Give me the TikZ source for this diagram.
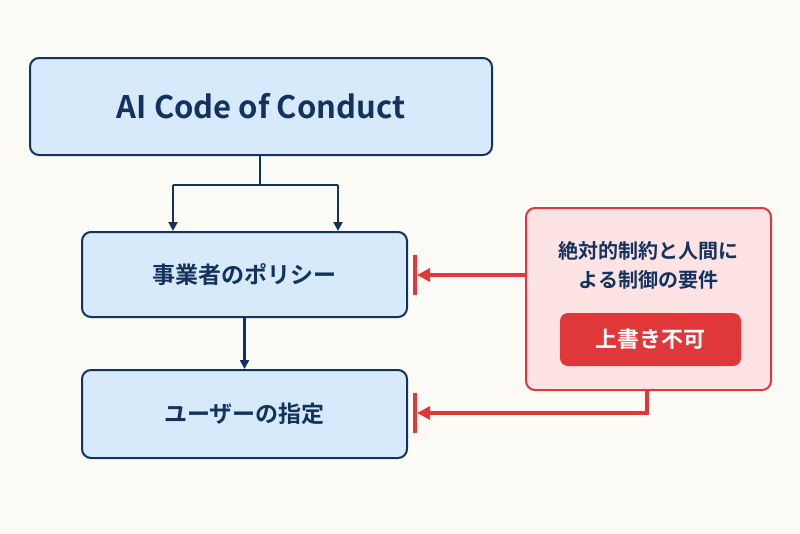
\documentclass[tikz,border=0pt]{standalone}
\usepackage{fontspec}
\setmainfont{Noto Sans CJK JP}[BoldFont={* Bold}]
\usetikzlibrary{arrows.meta}
\definecolor{bg}{HTML}{FDFBF6}
\definecolor{navy}{HTML}{13325E}
\definecolor{lblue}{HTML}{D6EAFB}
\definecolor{rd}{HTML}{E0373A}
\definecolor{pink}{HTML}{FDE3E3}
\begin{document}
\begin{tikzpicture}[x=1pt,y=-1pt,
 bx/.style={draw=navy,line width=2pt,fill=lblue,rounded corners=9pt,text=navy,font=\bfseries,inner sep=0pt},
 nv/.style={navy,line width=2.2pt,-{Triangle[length=9pt,width=9pt]}},
 ra/.style={rd,line width=3.5pt,-{Triangle[length=13pt,width=13pt]}},
 bar/.style={rd,line width=4pt}]
\fill[bg] (0,0) rectangle (800,533);
\useasboundingbox (0,0) rectangle (800,533);
\node[bx,minimum width=462pt,minimum height=97pt,font=\bfseries\fontsize{31}{36}\selectfont] (top) at (261,106.5) {AI Code of Conduct};
\node[bx,minimum width=325pt,minimum height=85pt,font=\bfseries\fontsize{23}{28}\selectfont] (pol) at (244.5,274.5) {事業者のポリシー};
\node[bx,minimum width=325pt,minimum height=88pt,font=\bfseries\fontsize{23}{28}\selectfont] (usr) at (244.5,414) {ユーザーの指定};
\node[draw=rd,line width=2pt,fill=pink,rounded corners=9pt,minimum width=245pt,minimum height=182pt,inner sep=0pt] (req) at (648.5,299) {};
\node[text=navy,font=\bfseries\fontsize{20}{29}\selectfont,align=center] (reqt) at (648.5,265) {絶対的制約と人間に\\よる制御の要件};
\node[fill=rd,rounded corners=8pt,minimum width=181pt,minimum height=53pt,text=white,font=\bfseries\fontsize{22}{26}\selectfont,inner sep=0pt] (badge) at (650.5,339.5) {上書き不可};
\coordinate (j) at (260,185);
\coordinate (jl) at (173,185);
\coordinate (jr) at (338,185);
\draw[navy,line width=2.2pt] (top.south -| j) -- (j);
\draw[navy,line width=2.2pt] (jl) -- (jr);
\draw[nv] (jl) -- (jl |- pol.north);
\draw[nv] (jr) -- (jr |- pol.north);
\draw[nv] (pol.south) -- (usr.north);
\coordinate (b1) at (415,275);
\coordinate (b2) at (415,413);
\draw[bar] ([yshift=-20pt]b1) -- ([yshift=20pt]b1);
\draw[bar] ([yshift=-20pt]b2) -- ([yshift=20pt]b2);
\draw[ra] (req.west |- b1) -- ([xshift=2pt]b1);
\coordinate (c) at (647,413);
\draw[ra] (req.south -| c) -- (c) -- ([xshift=2pt]b2);
\end{tikzpicture}
\end{document}
